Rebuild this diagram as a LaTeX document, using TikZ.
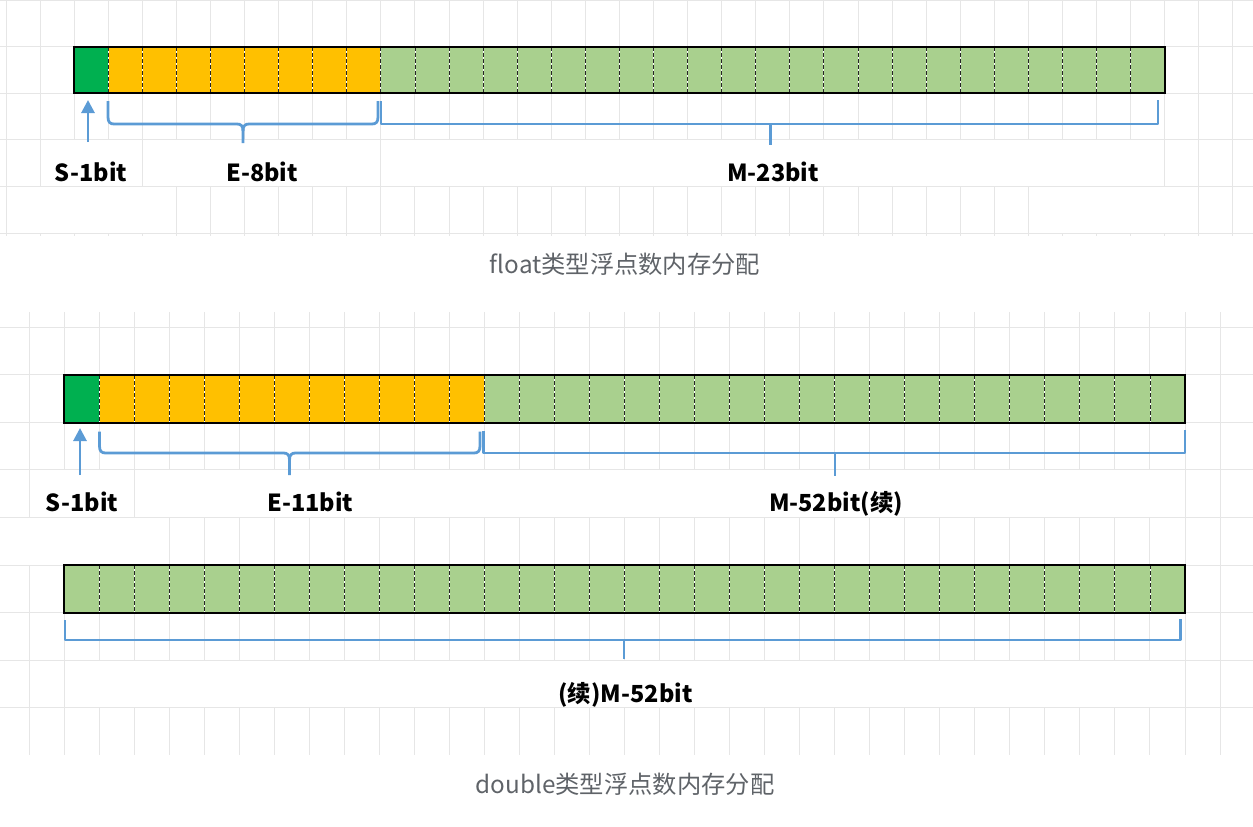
\documentclass[tikz,border=0pt]{standalone}
\usepackage{fontspec}
\setmainfont{Noto Sans CJK SC}
\usetikzlibrary{arrows.meta}
\definecolor{gridc}{HTML}{E6E6E6}
\definecolor{sgreen}{HTML}{00B050}
\definecolor{eorange}{HTML}{FFC000}
\definecolor{mgreen}{HTML}{A9D08E}
\definecolor{bracec}{HTML}{5B9BD5}
\definecolor{capc}{HTML}{5F6368}
\tikzset{
  gridline/.style={draw=gridc, line width=1pt},
  barborder/.style={draw=black, line width=1.8pt},
  divwhite/.style={draw=white, line width=0.9pt},
  divdash/.style={draw=black!85, line width=0.9pt, dash pattern=on 4pt off 2pt},
  brace/.style={draw=bracec, line width=2.8pt, line join=round},
  sarrow/.style={draw=bracec, line width=2.8pt, -{Triangle[length=13pt,width=13pt]}},
  lbl/.style={anchor=base, inner sep=0pt, font=\bfseries\fontsize{23.5}{28}\selectfont},
  captext/.style={anchor=base, inner sep=0pt, text=capc, font=\fontsize{24.3}{29}\selectfont},
}
\begin{document}
\begin{tikzpicture}[x=1pt,y=-1pt]
\useasboundingbox (0,0) rectangle (1253,827);
% ---------- top grid ----------
\foreach \k in {0,...,36} {
  \draw[gridline] ({6+34.08*\k},0) -- ({6+34.08*\k},236);
}
% occluded label areas
\fill[white] ({6+34.08*1+0.8},140) rectangle ({6+34.08*4-0.8},186.4);
\fill[white] ({6+34.08*4+0.8},140) rectangle ({6+34.08*11-0.8},186.4);
\fill[white] ({6+34.08*11+0.8},140) rectangle ({6+34.08*34-0.8},186.4);
\fill[white] ({6+34.08*0+0.8},186.4) rectangle ({6+34.08*5-0.8},233);
\fill[white] ({6+34.08*30+0.8},186.4) rectangle ({6+34.08*35-0.8},233);
\foreach \y in {0.5,46.6,93.2,139.8,186.4,233} {
  \draw[gridline] (0,\y) -- (1253,\y);
}
% ---------- bottom grid ----------
\foreach \k in {0,...,34} {
  \draw[gridline] ({29+35.03*\k},312) -- ({29+35.03*\k},755);
}
\fill[white] ({29+35.03*0+0.8},470) rectangle ({29+35.03*3-0.8},518);
\fill[white] ({29+35.03*3+0.8},470) rectangle ({29+35.03*33-0.8},518);
\fill[white] (0,518) rectangle ({29+35.03*4-0.8},565);
\fill[white] ({29+35.03*1+0.8},660) rectangle ({29+35.03*33-0.8},708);
\foreach \j in {0,...,8} {
  \draw[gridline] (0,{327+47.6*\j}) -- (1253,{327+47.6*\j});
}
% ---------- float bar ----------
\fill[sgreen]  ({6+34.08*2},46.6) rectangle ({6+34.08*3},93.2);
\fill[eorange] ({6+34.08*3},46.6) rectangle ({6+34.08*11},93.2);
\fill[mgreen]  ({6+34.08*11},46.6) rectangle ({6+34.08*34},93.2);
\foreach \k in {3,...,33} {
  \draw[divwhite] ({6+34.08*\k},46.6) -- ({6+34.08*\k},93.2);
  \draw[divdash]  ({6+34.08*\k},46.6) -- ({6+34.08*\k},93.2);
}
\draw[barborder] ({6+34.08*2},46.6) rectangle ({6+34.08*34},93.2);
% ---------- double bar 1 ----------
\fill[sgreen]  ({29+35.03*1},375) rectangle ({29+35.03*2},423);
\fill[eorange] ({29+35.03*2},375) rectangle ({29+35.03*13},423);
\fill[mgreen]  ({29+35.03*13},375) rectangle ({29+35.03*33},423);
\foreach \k in {2,...,32} {
  \draw[divwhite] ({29+35.03*\k},375) -- ({29+35.03*\k},423);
  \draw[divdash]  ({29+35.03*\k},375) -- ({29+35.03*\k},423);
}
\draw[barborder] ({29+35.03*1},375) rectangle ({29+35.03*33},423);
% ---------- double bar 2 ----------
\fill[mgreen]  ({29+35.03*1},565) rectangle ({29+35.03*33},613);
\foreach \k in {2,...,32} {
  \draw[divwhite] ({29+35.03*\k},565) -- ({29+35.03*\k},613);
  \draw[divdash]  ({29+35.03*\k},565) -- ({29+35.03*\k},613);
}
\draw[barborder] ({29+35.03*1},565) rectangle ({29+35.03*33},613);

% ---------- labels ----------
\node[lbl] (fS) at (91,181) {S-1bit};
\node[lbl] (fE) at (262,181) {E-8bit};
\node[lbl] (fM) at (773,181) {M-23bit};
\node[lbl] (dS) at (82,511.5) {S-1bit};
\node[lbl] (dE) at (310.5,511.5) {E-11bit};
\node[lbl] (dM) at (836,511.5) {M-52bit(续)};
\node[lbl] (dM2) at (625.5,702.5) {(续)M-52bit};
\node[captext] (capF) at (625,273.5) {float类型浮点数内存分配};
\node[captext] (capD) at (625,793) {double类型浮点数内存分配};

% ---------- float connectors ----------
\coordinate (fSa) at (88,142);
\coordinate (fSb) at (88,100);
\draw[sarrow] (fSa) -- (fSb);
% E curly brace
\coordinate (fEl) at (108,101);
\coordinate (fEr) at (378,101);
\coordinate (fEm) at (243,143);
\draw[brace] (fEl) -- (108,117) .. controls (108,122) and (110,124) .. (114,124)
  -- (237,124) .. controls (241,124) and (243,126) .. (243,131) -- (fEm);
\draw[brace] (fEr) -- (378,117) .. controls (378,122) and (376,124) .. (372,124)
  -- (249,124) .. controls (245,124) and (243,126) .. (243,131);
% M bracket
\coordinate (fMl) at (381,101);
\coordinate (fMr) at (1158,100);
\coordinate (fMm) at (770.5,124);
\coordinate (fMt) at (770.5,145);
\draw[brace] (fMl) -- (381,124) -- (1158,124) -- (fMr);
\draw[brace] (fMm) -- (fMt);

% ---------- double connectors ----------
\coordinate (dSa) at (80,475);
\coordinate (dSb) at (80,428);
\draw[sarrow] (dSa) -- (dSb);
\coordinate (dEl) at (99.5,431.5);
\coordinate (dEr) at (480,431.5);
\coordinate (dEm) at (289.5,475);
\draw[brace] (dEl) -- (99.5,446) .. controls (99.5,451) and (101.5,453) .. (105.5,453)
  -- (283.5,453) .. controls (287.5,453) and (289.5,455) .. (289.5,460) -- (dEm);
\draw[brace] (dEr) -- (480,446) .. controls (480,451) and (478,453) .. (474,453)
  -- (295.5,453) .. controls (291.5,453) and (289.5,455) .. (289.5,460);
\coordinate (dMl) at (483.5,431);
\coordinate (dMr) at (1185,430);
\coordinate (dMm) at (835,453);
\coordinate (dMt) at (835,476);
\draw[brace] (dMl) -- (483.5,453) -- (1185,453) -- (dMr);
\draw[brace] (dMm) -- (dMt);
\coordinate (d2l) at (65,620);
\coordinate (d2r) at (1180.5,619);
\coordinate (d2m) at (624,640);
\coordinate (d2t) at (624,659);
\draw[brace] (d2l) -- (65,640) -- (1180.5,640) -- (d2r);
\draw[brace] (d2m) -- (d2t);
\end{tikzpicture}
\end{document}
